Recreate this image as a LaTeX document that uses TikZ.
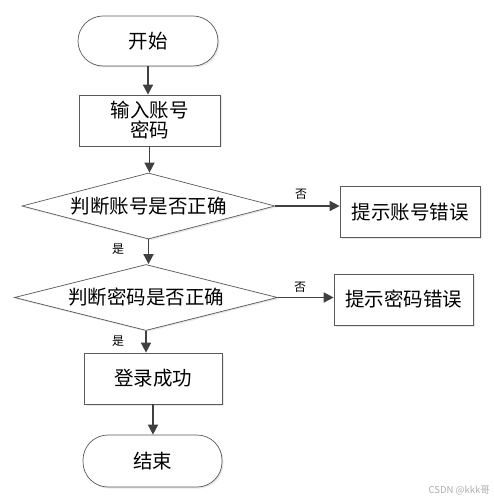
\documentclass[tikz,border=0pt]{standalone}
\usepackage{fontspec}
\setmainfont{Noto Sans CJK SC}
\usetikzlibrary{shapes.geometric,arrows.meta,shadows}
\definecolor{linegray}{HTML}{404040}
\definecolor{edgegray}{HTML}{5A5A5A}
\begin{document}
\begin{tikzpicture}[x=1pt,y=-1pt,
  shapebase/.style={draw=edgegray, line width=0.7pt, fill=white,
    drop shadow={opacity=0.18, shadow xshift=1.5pt, shadow yshift=-1.5pt},
    font=\fontsize{19.5}{23}\selectfont, inner sep=0pt, align=center},
  terminal/.style={shapebase, rectangle, rounded corners=25pt, minimum width=140pt, minimum height=50pt},
  procbox/.style={shapebase, rectangle, minimum width=140pt, minimum height=51pt},
  decision/.style={shapebase, diamond, aspect=3.8, minimum height=66pt},
  flow/.style={draw=linegray, line width=1.6pt, -{Triangle[length=10pt,width=10pt]}},
  lbl/.style={font=\fontsize{12}{14}\selectfont, text=black, inner sep=0pt}
]
\useasboundingbox (0,0) rectangle (493,502);

\node[terminal] (start) at (148,41) {开始};
\node[procbox, minimum width=141pt] (input) at (149.5,120.5) {输入账号\\[-3pt]密码};
\node[decision, minimum width=253pt] (d1) at (148.5,206) {判断账号是否正确};
\node[procbox] (e1) at (410,212) {提示账号错误};
\node[decision, minimum width=263pt] (d2) at (146,297.5) {判断密码是否正确};
\node[procbox, minimum width=139pt] (e2) at (403.5,299.5) {提示密码错误};
\node[procbox, minimum width=138pt] (ok) at (153,378.5) {登录成功};
\node[terminal, minimum width=139pt, minimum height=52pt] (stop) at (152.5,461) {结束};

\draw[flow] (start.south) -- (start.south |- input.north);
\draw[flow] (input.south) -- (input.south |- d1.north);
\draw[flow] (d1.east) -- (d1.east -| e1.west);
\draw[flow] (d1.south) -- (d1.south |- d2.north);
\draw[flow] (d2.east) -- (d2.east -| e2.west);
\draw[flow] (d2.south) -- (d2.south |- ok.north);
\draw[flow] (ok.south) -- (ok.south |- stop.north);

\node[lbl] (n1) at (301,194) {否};
\node[lbl] (n2) at (300,287) {否};
\node[lbl] (y1) at (118,249) {是};
\node[lbl] (y2) at (118,341) {是};

\node[font=\fontsize{9.5}{11}\selectfont, text=gray!65, anchor=east, inner sep=0pt] (wm) at (490,491) {CSDN @kkk哥};
\end{tikzpicture}
\end{document}
